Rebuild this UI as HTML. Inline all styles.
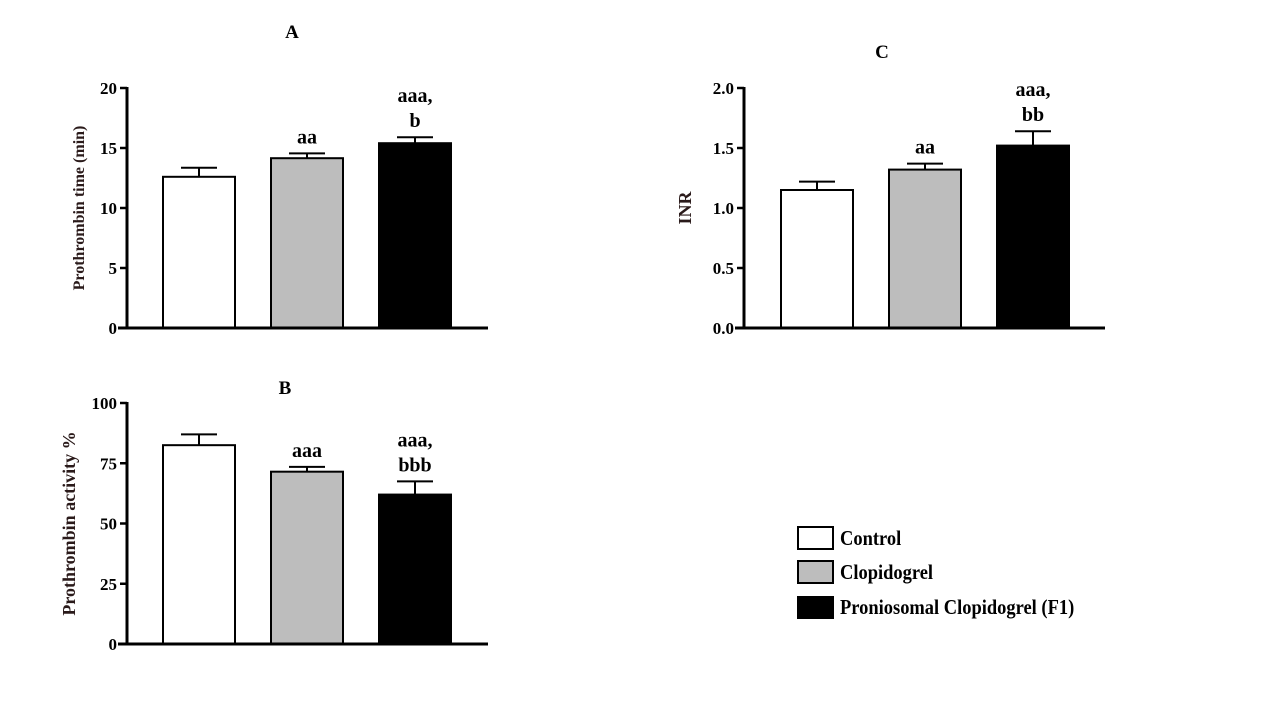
<!DOCTYPE html>
<html><head><meta charset="utf-8"><style>
body{margin:0;background:#fff;width:1280px;height:720px;overflow:hidden}
svg{font-family:"Liberation Serif",serif;font-weight:bold}
</style></head><body>
<svg id="chart" width="1280" height="720" viewBox="0 0 1280 720" xmlns="http://www.w3.org/2000/svg">
<rect width="1280" height="720" fill="#fff"/>
<g>
 <rect x="798" y="527" width="35" height="22" fill="#fff" stroke="#000" stroke-width="2"/>
 <text x="840" y="545" font-size="21" transform="translate(840 0) scale(0.88 1) translate(-840 0)">Control</text>
 <rect x="798" y="561" width="35" height="22" fill="#bdbdbd" stroke="#000" stroke-width="2"/>
 <text x="840" y="579" font-size="21" transform="translate(840 0) scale(0.88 1) translate(-840 0)">Clopidogrel</text>
 <rect x="797" y="596" width="37" height="23" fill="#000"/>
 <text x="840" y="614" font-size="21" transform="translate(840 0) scale(0.88 1) translate(-840 0)">Proniosomal Clopidogrel (F1)</text>
</g>
</svg>
<script>
const groups = ["Control","Clopidogrel","Proniosomal Clopidogrel (F1)"];
const fills = ["#fff","#bdbdbd","#000"];
const ptValues = [12.6, 14.15, 15.4];
const ptErrors = [0.75, 0.4, 0.5];
const ptLabels = ["", "aa", "aaa,|b"];
const ptTicks = [0,5,10,15,20];
const paValues = [82.5, 71.5, 62];
const paErrors = [4.5, 2, 5.5];
const paLabels = ["", "aaa", "aaa,|bbb"];
const paTicks = [0,25,50,75,100];
const inrValues = [1.15, 1.32, 1.52];
const inrErrors = [0.07, 0.05, 0.12];
const inrLabels = ["", "aa", "aaa,|bb"];
const inrTicks = ["0.0","0.5","1.0","1.5","2.0"];

const svg = document.getElementById('chart');
const NS = "http://www.w3.org/2000/svg";
function mk(tag, attrs, parent){const e=document.createElementNS(NS,tag);for(const k in attrs)e.setAttribute(k,attrs[k]);parent.appendChild(e);return e;}

function panel(p){
  const g = mk('g',{},svg);
  
  
  const ymax = Number(p.ticks[p.ticks.length-1]);
  const y = v => p.y0 - (v/ymax)*(p.y0-p.y1);
  const t = mk('text',{x:p.tx,y:p.ty,'font-size':19,'text-anchor':'middle'},g);
  t.textContent = p.title;
  
  
  p.values.forEach((v,i)=>{
    const bx = p.bx0 + i*108, bw = 72;
    const top = y(v), et = y(v+p.errors[i]), cx = bx+bw/2;
    const el = mk('line',{x1:cx,x2:cx,y1:top,y2:et,stroke:'#000','stroke-width':2},g);
    
    
    const cap = mk('line',{x1:cx-18,x2:cx+18,y1:et,y2:et,stroke:'#000','stroke-width':2},g);
    
    
    const r = mk('rect',{x:bx,y:top,width:bw,height:p.y0-top,fill:fills[i],stroke:'#000','stroke-width':2},g);
    
    
    const lines = p.labels[i] ? p.labels[i].split('|') : [];
    lines.forEach((s,j)=>{
      const lt = mk('text',{x:cx,y:et-10-(lines.length-1-j)*25,'font-size':20,'text-anchor':'middle'},g);
      lt.textContent = s;
      
      
    });
  });
  const ya = mk('line',{x1:p.ax,x2:p.ax,y1:p.y1-1,y2:p.y0+1.5,stroke:'#000','stroke-width':3},g);
  
  
  const xa = mk('line',{x1:p.ax-9,x2:p.xend,y1:p.y0,y2:p.y0,stroke:'#000','stroke-width':3},g);
  
  
  p.ticks.forEach(tk=>{
    const yy = y(Number(tk));
    mk('line',{x1:p.ax-7,x2:p.ax,y1:yy,y2:yy,stroke:'#000','stroke-width':2.5},g);
    const tl = mk('text',{x:p.ax-10,y:yy+6,'font-size':17,'text-anchor':'end'},g);
    tl.textContent = tk;
    
    
  });
  const yl = mk('text',{x:0,y:0,'font-size':p.ylSize,'text-anchor':'middle',fill:'#2a1a1a',transform:`translate(${p.ylx} ${(p.y0+p.y1)/2}) rotate(-90)`},g);
  yl.textContent = p.ylabel;
  
  
}
panel({name:'panel-a-prothrombin-time',title:'A',tx:292,ty:38,values:ptValues,errors:ptErrors,labels:ptLabels,ticks:ptTicks,ax:127,y0:328,y1:88,bx0:163,xend:488,ylabel:'Prothrombin  time (min)',ylx:84,ylSize:16});
panel({name:'panel-c-inr',title:'C',tx:882,ty:58,values:inrValues,errors:inrErrors,labels:inrLabels,ticks:inrTicks,ax:744,y0:328,y1:88,bx0:781,xend:1105,ylabel:'INR',ylx:691,ylSize:18});
panel({name:'panel-b-prothrombin-activity',title:'B',tx:285,ty:394,values:paValues,errors:paErrors,labels:paLabels,ticks:paTicks,ax:127,y0:644,y1:403,bx0:163,xend:488,ylabel:'Prothrombin activity %',ylx:75,ylSize:18});
</script>
</body></html>
